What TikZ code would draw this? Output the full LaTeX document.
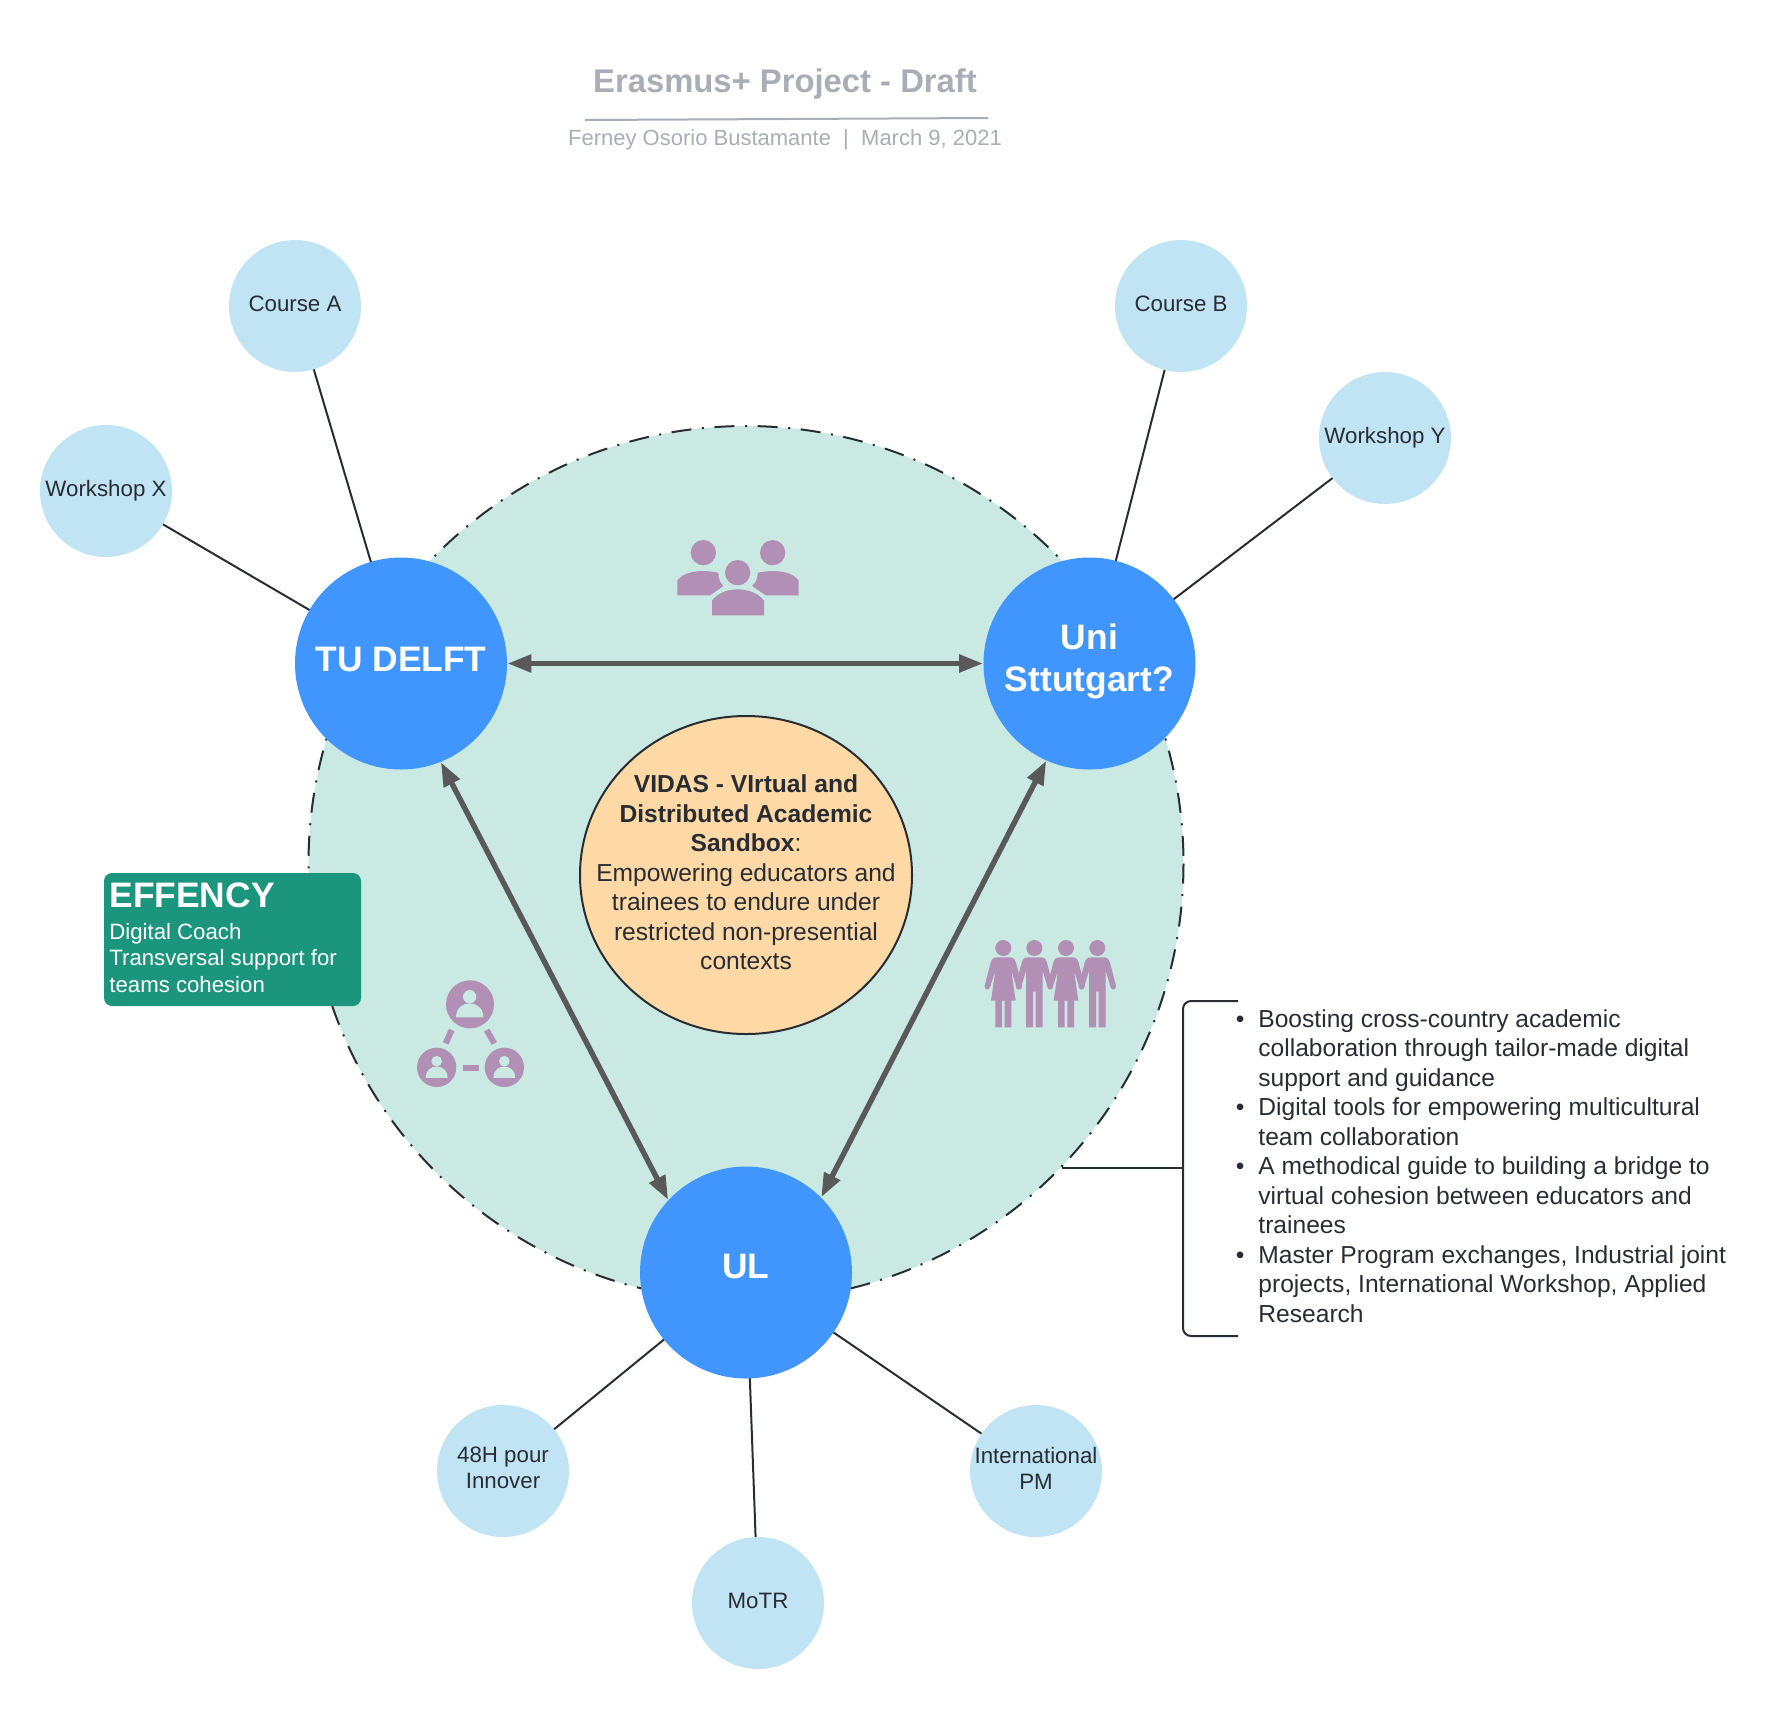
\documentclass[tikz,border=0pt]{standalone}
\usepackage{fontspec}
\setmainfont{Liberation Sans}
\usetikzlibrary{backgrounds,arrows.meta,shapes.geometric}
\definecolor{bgc}{HTML}{C9E9E2}
\definecolor{blu}{HTML}{4196FD}
\definecolor{lite}{HTML}{C1E4F5}
\definecolor{oran}{HTML}{FED9A6}
\definecolor{icon}{HTML}{B28FB5}
\definecolor{teal}{HTML}{1B967C}
\definecolor{ink}{HTML}{282C33}
\definecolor{arr}{HTML}{595959}
\definecolor{gry}{HTML}{A9ADB5}
\newcommand{\lift}[2]{\raisebox{#1}[\height][\depth]{#2}}
\tikzset{
 hub/.style={circle,fill=blu,text=white,minimum size=106pt,inner sep=0pt,align=center,font=\fontsize{17.7}{21}\bfseries\selectfont},
 leaf/.style={circle,fill=lite,text=ink,minimum size=66pt,inner sep=0pt,align=center,font=\fontsize{11.15}{12.9}\selectfont},
 link/.style={draw=ink,line width=1pt},
 twoway/.style={draw=arr,line width=2.7pt,{Triangle[length=12pt,width=8.5pt]}-{Triangle[length=12pt,width=8.5pt]}},
 femalefig/.pic={
  \fill[icon] (0,84) circle (24);
  \fill[icon] (-20,112) -- (20,112) .. controls (30,112) and (35,118) .. (38,128) -- (56,197) .. controls (58,210) and (42,212) .. (40,202) -- (24,152) -- (37,242) -- (24,242) -- (24,322) -- (4,322) -- (4,242) -- (-4,242) -- (-4,322) -- (-24,322) -- (-24,242) -- (-37,242) -- (-24,152) -- (-40,202) .. controls (-42,212) and (-58,210) .. (-56,197) -- (-38,128) .. controls (-35,118) and (-30,112) .. (-20,112) -- cycle;
 },
 malefig/.pic={
  \fill[icon] (0,84) circle (24);
  \fill[icon] (-20,112) -- (20,112) .. controls (30,112) and (35,118) .. (38,128) -- (56,197) .. controls (58,210) and (42,212) .. (40,202) -- (25,152) -- (25,322) -- (4,322) -- (4,215) -- (-4,215) -- (-4,322) -- (-25,322) -- (-25,152) -- (-40,202) .. controls (-42,212) and (-58,210) .. (-56,197) -- (-38,128) .. controls (-35,118) and (-30,112) .. (-20,112) -- cycle;
 },
 netperson/.pic={
  \fill[bgc] (0,-23) circle (20);
  \fill[bgc] (-41,39) .. controls (-41,10) and (-20,-3) .. (0,-3) .. controls (20,-3) and (41,10) .. (41,39) -- cycle;
 }
}
\begin{document}
\begin{tikzpicture}[x=0.5pt,y=-0.5pt]
\useasboundingbox (0,0) rectangle (1773,1710);
% hubs and leaves
\node[hub] (tu) at (401,663.5) {\lift{2.2pt}{TU DELFT}};
\node[hub] (uni) at (1089.5,663.5) {\lift{1pt}{Uni}\\\lift{1pt}{Sttutgart?}};
\node[hub] (ul) at (746,1272.5) {\lift{2.8pt}{UL}};
\node[leaf] (ca) at (295,306) {\lift{1pt}{Course A}};
\node[leaf] (wx) at (106,491) {Workshop X};
\node[leaf] (cb) at (1181,306) {\lift{1pt}{Course B}};
\node[leaf] (wy) at (1385,438) {Workshop Y};
\node[leaf] (h48) at (503,1471) {\lift{1.5pt}{48H pour}\\\lift{1.5pt}{Innover}};
\node[leaf] (ipm) at (1036,1471) {\lift{1.5pt}{International}\\\lift{1.5pt}{PM}};
\node[leaf] (mot) at (758,1603) {\lift{1pt}{MoTR}};
\begin{pgfonlayer}{background}
\fill[bgc] (746,863.5) circle (437.5);
\draw[ink,line width=1pt,dash pattern=on 10pt off 5.3pt on 1pt off 5.3pt] (746,863.5) circle (437.5);
\draw[link] (ca.center) -- (tu.center);
\draw[link] (wx.center) -- (tu.center);
\draw[link] (cb.center) -- (uni.center);
\draw[link] (wy.center) -- (uni.center);
\draw[link] (h48.center) -- (ul.center);
\draw[link] (ipm.center) -- (ul.center);
\draw[link] (mot.center) -- (ul.center);
\end{pgfonlayer}
% centre
\node[ellipse,draw=ink,line width=1pt,fill=oran,minimum width=166pt,minimum height=159pt,inner sep=0pt] (mid) at (746,875) {};
\node[text=ink,align=center,font=\fontsize{12.3}{14.75}\selectfont] (midtext) at (746,872.5) {\textbf{VIDAS - VIrtual and}\\\textbf{Distributed Academic}\\\textbf{Sandbox}:\\Empowering educators and\\trainees to endure under\\restricted non-presential\\contexts};
\draw[twoway] (tu.east) -- (uni.west);
\draw[twoway] (tu.-68) -- (ul.137);
\draw[twoway] (uni.-114) -- (ul.45);
% title
\node[text=gry,font=\fontsize{16.4}{20}\bfseries\selectfont] (title) at (785,84) {Erasmus+ Project - Draft};
\node[text=gry,font=\fontsize{11}{14}\selectfont] (sub) at (785,139.5) {Ferney Osorio Bustamante\ \ |\ \ March 9, 2021};
\coordinate (rl) at (585,120);
\coordinate (rr) at (988,118);
\draw[gry,line width=1pt] (rl) -- (rr);
% effency
\node[fill=teal,rounded corners=4pt,minimum width=128.5pt,minimum height=66.5pt,inner sep=0pt] (box) at (232.5,939.5) {};
\node[anchor=north west,text=white,inner sep=0pt,font=\fontsize{17.7}{21}\bfseries\selectfont] (boxh) at (109,882) {EFFENCY};
\node[anchor=north west,text=white,inner sep=0pt,align=left,font=\fontsize{11.1}{13.3}\selectfont] (boxt) at (109,922.5) {Digital Coach\\Transversal support for\\teams cohesion};
% bracket
\coordinate (bt) at (1238,1001);
\coordinate (bb) at (1238,1336);
\coordinate (bm) at (1183,1168);
\coordinate (be) at (1062,1168);
\draw[ink,line width=1pt,rounded corners=4pt] (bt) -- (1183,1001) -- (1183,1336) -- (bb);
\draw[ink,line width=1pt] (be) -- (bm);
\node[anchor=west,text=ink,inner sep=0pt,align=left,font=\fontsize{12.3}{14.75}\selectfont] (list) at (1258,1166) {\llap{•\hspace{7pt}}Boosting cross-country academic\\collaboration through tailor-made digital\\support and guidance\\\llap{•\hspace{7pt}}Digital tools for empowering multicultural\\team collaboration\\\llap{•\hspace{7pt}}A methodical guide to building a bridge to\\virtual cohesion between educators and\\trainees\\\llap{•\hspace{7pt}}Master Program exchanges, Industrial joint\\projects, International Workshop, Applied\\Research};
% group icon
\begin{scope}[shift={(640,510)},scale=0.33333]
\fill[icon] (190,128) circle (38);
\fill[icon] (398,128) circle (38);
\fill[icon] (293,188) circle (38);
\fill[icon] (112,256) -- (112,212) .. controls (125,190) and (170,175) .. (235,188) .. controls (235,205) and (240,218) .. (250,228) -- (210,256) -- cycle;
\fill[icon] (476,256) -- (476,212) .. controls (463,190) and (418,175) .. (353,188) .. controls (353,205) and (348,218) .. (336,228) -- (378,256) -- cycle;
\fill[icon] (216,316) -- (216,272) .. controls (235,245) and (270,238) .. (293,238) .. controls (316,238) and (352,245) .. (372,272) -- (372,316) -- cycle;
\end{scope}
% network icon
\begin{scope}[shift={(400,960)},scale=0.33333]
\fill[icon] (210,133) circle (72);
\fill[icon] (110,322) circle (59);
\fill[icon] (313,322) circle (59);
\pic[transform shape] at (209,133) {netperson};
\pic[transform shape,scale=0.8] at (110,322) {netperson};
\pic[transform shape,scale=0.8] at (313,322) {netperson};
\draw[icon,line width=3pt] (155,210) -- (137,250);
\draw[icon,line width=3pt] (260,210) -- (283,250);
\draw[icon,line width=3pt] (188,323) -- (238,323);
\end{scope}
% people icon
\begin{scope}[shift={(970,920)},scale=0.33333]
\pic[transform shape] at (100,0) {femalefig};
\pic[transform shape] at (193,0) {malefig};
\pic[transform shape] at (288,0) {femalefig};
\pic[transform shape] at (382,0) {malefig};
\end{scope}
\end{tikzpicture}
\end{document}
